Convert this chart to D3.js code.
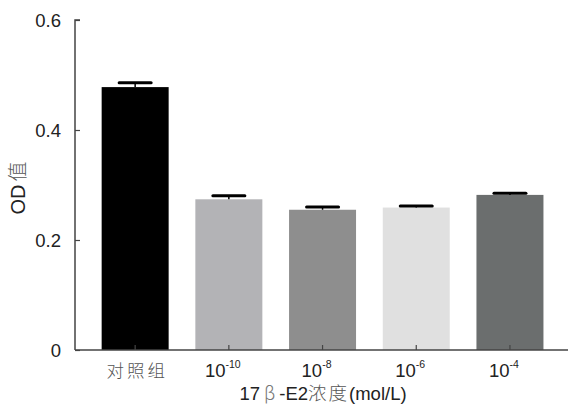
<!DOCTYPE html>
<html><head><meta charset="utf-8">
<script src="https://cdn.jsdelivr.net/npm/d3@7"></script>
<style>body{margin:0;background:#fff}svg{display:block}</style>
</head><body><svg id="c" width="570" height="404"></svg>
<script>
const categories = ["对照组", "10^-10", "10^-8", "10^-6", "10^-4"];
const values = [0.478, 0.274, 0.255, 0.259, 0.282];
const errors = [0.008, 0.0065, 0.005, 0.003, 0.003];
const colors = ["#000000", "#b3b3b6", "#8e8e8e", "#e0e0e0", "#6b6e6e"];
const yTicks = [0, 0.2, 0.4, 0.6];
const yTickLabels = ["0", "0.2", "0.4", "0.6"];

const svg = d3.select("#c");
const x = d3.scaleBand().domain(categories).range([88.3, 556.8]).paddingInner(0.285).paddingOuter(0.1425);
const y = d3.scaleLinear().domain([0, 0.6]).range([350, 20]);
const axisColor = "#444";
const font = "'Liberation Sans', Arial, sans-serif";
const cjk = "'Noto Sans CJK SC', sans-serif";

// bars
svg.append("g").selectAll("rect").data(categories).join("rect")
  .attr("x", d => x(d)).attr("width", x.bandwidth())
  .attr("y", (d,i) => y(values[i])).attr("height", (d,i) => y(0) - y(values[i]))
  .attr("fill", (d,i) => colors[i]);

// error bars
const eg = svg.append("g").attr("stroke", "#000");
categories.forEach((c,i) => {
  const cx = x(c) + x.bandwidth()/2;
  eg.append("line").attr("x1", cx).attr("x2", cx).attr("y1", y(values[i])).attr("y2", y(values[i]+errors[i])).attr("stroke-width", 1.5);
  eg.append("line").attr("x1", cx-16).attr("x2", cx+16).attr("y1", y(values[i]+errors[i])).attr("y2", y(values[i]+errors[i])).attr("stroke-width", 3).attr("stroke-linecap","round");
});

// y axis
const ya = svg.append("g").attr("transform", "translate(75,0)")
  .call(d3.axisRight(y).tickValues(yTicks).tickSize(5).tickFormat(""));
ya.select(".domain").attr("stroke", axisColor).attr("stroke-width", 1.5).attr("d", "M5,20H0V350");
ya.selectAll(".tick line").attr("stroke", axisColor).attr("stroke-width", 1.2);
svg.append("g").selectAll("text").data(yTicks).join("text")
  .attr("x", 61).attr("y", d => y(d) + 6.5).attr("text-anchor", "end")
  .attr("font-family", font).attr("font-size", 18.5).attr("fill", "#222")
  .text((d,i) => yTickLabels[i]);

// x axis
const xa = svg.append("g").attr("transform", "translate(0,350)")
  .call(d3.axisTop(x).tickSize(5).tickFormat(""));
xa.select(".domain").attr("stroke", axisColor).attr("stroke-width", 1.5).attr("d", "M75,0H568");
xa.selectAll(".tick line").attr("stroke", axisColor).attr("stroke-width", 1.2);

// x tick labels
const xl = svg.append("g");
categories.forEach((c,i) => {
  const cx = x(c) + x.bandwidth()/2;
  if (c.indexOf("^") < 0) {
    xl.append("text").attr("x", cx + 2).attr("y", 377).attr("text-anchor", "middle")
      .attr("font-family", cjk).attr("font-weight", 300)
      .attr("font-size", 17.5).attr("letter-spacing", 3).attr("fill", "#555").text(c);
  } else {
    const [base, exp] = c.split("^");
    const t = xl.append("text").attr("x", cx - 6).attr("y", 377).attr("text-anchor", "middle")
      .attr("font-family", font).attr("font-size", 18.5).attr("fill", "#222");
    t.append("tspan").text(base);
    t.append("tspan").attr("dy", -9).attr("font-size", 10.5).text(exp);
  }
});

// x title
const xt = svg.append("text").attr("x", 323).attr("y", 400).attr("text-anchor", "middle")
  .attr("font-family", font).attr("font-size", 18.5).attr("fill", "#222");
xt.append("tspan").text("17");
xt.append("tspan").attr("dx", 4).attr("font-family", cjk).attr("font-weight", 300).attr("fill", "#777").text("β");
xt.append("tspan").attr("dx", 4).text("-E2");
xt.append("tspan").attr("font-family", cjk).attr("font-weight", 300).attr("fill", "#555").attr("letter-spacing", 2).text("浓度");
xt.append("tspan").text("(mol/L)");

// y title
const ytT = svg.append("text").attr("transform", "translate(25,188) rotate(-90)").attr("text-anchor", "middle")
  .attr("font-family", font).attr("font-size", 20).attr("fill", "#222");
ytT.append("tspan").text("OD");
ytT.append("tspan").attr("dx", 3).attr("font-family", cjk).attr("font-weight", 300).attr("fill", "#555").text("值");
</script></body></html>
